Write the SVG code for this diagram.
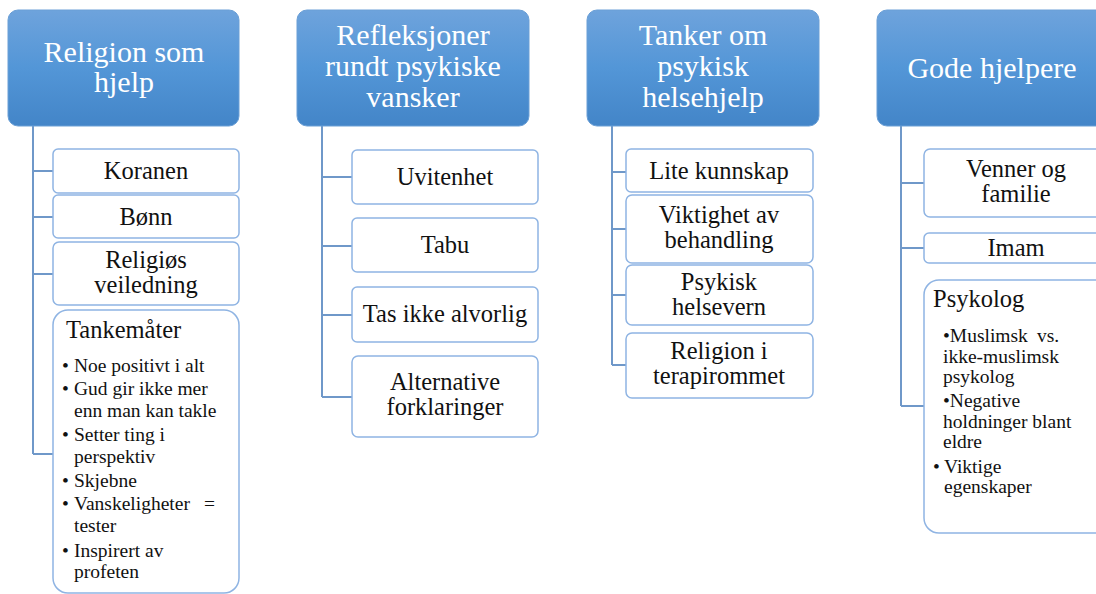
<svg xmlns="http://www.w3.org/2000/svg" width="1096" height="594" viewBox="0 0 1096 594" font-family="Liberation Serif, Times New Roman, serif">
<defs>
<linearGradient id="hg" x1="0" y1="0" x2="0" y2="1">
<stop offset="0" stop-color="#6ea3dc"/>
<stop offset="0.5" stop-color="#5396d7"/>
<stop offset="1" stop-color="#4385c8"/>
</linearGradient>
</defs>
<style>
.hdr{fill:url(#hg);stroke:#6a9fd6;stroke-width:1}
.box{fill:#ffffff;stroke:#8fb4e3;stroke-width:1.5}
.con{fill:none;stroke:#6f98c9;stroke-width:2}
</style>
<rect width="1096" height="594" fill="#ffffff"/>
<g id="connectors" class="con">
<path d="M33 126V454M33 171H53M33 217H53M33 274H53M33 454H53"/>
<path d="M322 126V397M322 177H352M322 246H352M322 315H352M322 397H352"/>
<path d="M612 126V365M612 172H626M612 229H626M612 295H626M612 365H626"/>
<path d="M901 126V406M901 183H924M901 248H924M901 406H924"/>
</g>
<g id="h1" font-size="30" fill="#ffffff" text-anchor="middle">
<rect class="hdr" x="8" y="10" width="231" height="116" rx="10"/>
<text x="124" y="62" font-family="Liberation Serif, Times New Roman, serif">Religion som</text>
<text x="124" y="92" font-family="Liberation Serif, Times New Roman, serif">hjelp</text>
</g>
<g id="n-koranen" font-size="24.5" fill="#111111" text-anchor="middle">
<rect class="box" x="53" y="149" width="186" height="44" rx="5"/>
<text x="146" y="179" font-family="Liberation Serif, Times New Roman, serif">Koranen</text>
</g>
<g id="n-bonn" font-size="24.5" fill="#111111" text-anchor="middle">
<rect class="box" x="53" y="195" width="186" height="43" rx="5"/>
<text x="146" y="225" font-family="Liberation Serif, Times New Roman, serif">Bønn</text>
</g>
<g id="n-religios" font-size="24.5" fill="#111111" text-anchor="middle">
<rect class="box" x="53" y="242" width="186" height="63" rx="6"/>
<text x="146" y="268" font-family="Liberation Serif, Times New Roman, serif">Religiøs</text>
<text x="146" y="293" font-family="Liberation Serif, Times New Roman, serif">veiledning</text>
</g>
<g id="n-tankemater" font-size="19.5" fill="#111111">
<rect class="box" x="53" y="310" width="186" height="283" rx="15"/>
<text x="66" y="338" font-family="Liberation Serif, Times New Roman, serif" font-size="24.5">Tankemåter</text>
<text x="62" y="372" font-family="Liberation Serif, Times New Roman, serif">•</text><text x="74" y="372" font-family="Liberation Serif, Times New Roman, serif">Noe positivt i alt</text>
<text x="62" y="395" font-family="Liberation Serif, Times New Roman, serif">•</text><text x="74" y="395" font-family="Liberation Serif, Times New Roman, serif">Gud gir ikke mer</text>
<text x="74" y="417" font-family="Liberation Serif, Times New Roman, serif">enn man kan takle</text>
<text x="62" y="441" font-family="Liberation Serif, Times New Roman, serif">•</text><text x="74" y="441" font-family="Liberation Serif, Times New Roman, serif">Setter ting i</text>
<text x="74" y="463" font-family="Liberation Serif, Times New Roman, serif">perspektiv</text>
<text x="62" y="487" font-family="Liberation Serif, Times New Roman, serif">•</text><text x="74" y="487" font-family="Liberation Serif, Times New Roman, serif">Skjebne</text>
<text x="62" y="510" font-family="Liberation Serif, Times New Roman, serif">•</text><text x="74" y="510" font-family="Liberation Serif, Times New Roman, serif">Vanskeligheter <tspan x="204">=</tspan></text>
<text x="74" y="532" font-family="Liberation Serif, Times New Roman, serif">tester</text>
<text x="62" y="557" font-family="Liberation Serif, Times New Roman, serif">•</text><text x="74" y="557" font-family="Liberation Serif, Times New Roman, serif">Inspirert <tspan x="145">av</tspan></text>
<text x="74" y="578" font-family="Liberation Serif, Times New Roman, serif">profeten</text>
</g>
<g id="h2" font-size="30" fill="#ffffff" text-anchor="middle">
<rect class="hdr" x="297" y="10" width="232" height="116" rx="10"/>
<text x="413" y="45" font-family="Liberation Serif, Times New Roman, serif">Refleksjoner</text>
<text x="413" y="76" font-family="Liberation Serif, Times New Roman, serif">rundt psykiske</text>
<text x="413" y="107" font-family="Liberation Serif, Times New Roman, serif">vansker</text>
</g>
<g id="n-uvitenhet" font-size="24.5" fill="#111111" text-anchor="middle">
<rect class="box" x="352" y="150" width="186" height="54" rx="5"/>
<text x="445" y="185" font-family="Liberation Serif, Times New Roman, serif">Uvitenhet</text>
</g>
<g id="n-tabu" font-size="24.5" fill="#111111" text-anchor="middle">
<rect class="box" x="352" y="218" width="186" height="54" rx="5"/>
<text x="445" y="253" font-family="Liberation Serif, Times New Roman, serif">Tabu</text>
</g>
<g id="n-tas" font-size="24.5" fill="#111111" text-anchor="middle">
<rect class="box" x="352" y="287" width="186" height="55" rx="5"/>
<text x="445" y="322" font-family="Liberation Serif, Times New Roman, serif">Tas ikke alvorlig</text>
</g>
<g id="n-alternative" font-size="24.5" fill="#111111" text-anchor="middle">
<rect class="box" x="352" y="356" width="186" height="81" rx="6"/>
<text x="445" y="390" font-family="Liberation Serif, Times New Roman, serif">Alternative</text>
<text x="445" y="415" font-family="Liberation Serif, Times New Roman, serif">forklaringer</text>
</g>
<g id="h3" font-size="30" fill="#ffffff" text-anchor="middle">
<rect class="hdr" x="587" y="10" width="232" height="116" rx="10"/>
<text x="703" y="45" font-family="Liberation Serif, Times New Roman, serif">Tanker om</text>
<text x="703" y="76" font-family="Liberation Serif, Times New Roman, serif">psykisk</text>
<text x="703" y="107" font-family="Liberation Serif, Times New Roman, serif">helsehjelp</text>
</g>
<g id="n-lite" font-size="24.5" fill="#111111" text-anchor="middle">
<rect class="box" x="626" y="149" width="187" height="43" rx="5"/>
<text x="719" y="179" font-family="Liberation Serif, Times New Roman, serif">Lite kunnskap</text>
</g>
<g id="n-viktighet" font-size="24.5" fill="#111111" text-anchor="middle">
<rect class="box" x="626" y="195" width="187" height="68" rx="6"/>
<text x="719" y="223" font-family="Liberation Serif, Times New Roman, serif">Viktighet av</text>
<text x="719" y="248" font-family="Liberation Serif, Times New Roman, serif">behandling</text>
</g>
<g id="n-psykisk" font-size="24.5" fill="#111111" text-anchor="middle">
<rect class="box" x="626" y="265" width="187" height="60" rx="6"/>
<text x="719" y="290" font-family="Liberation Serif, Times New Roman, serif">Psykisk</text>
<text x="719" y="315" font-family="Liberation Serif, Times New Roman, serif">helsevern</text>
</g>
<g id="n-religion" font-size="24.5" fill="#111111" text-anchor="middle">
<rect class="box" x="626" y="333" width="187" height="65" rx="6"/>
<text x="719" y="359" font-family="Liberation Serif, Times New Roman, serif">Religion i</text>
<text x="719" y="384" font-family="Liberation Serif, Times New Roman, serif">terapirommet</text>
</g>
<g id="h4" font-size="30" fill="#ffffff" text-anchor="middle">
<rect class="hdr" x="877" y="10" width="232" height="116" rx="10"/>
<text x="992" y="78" font-family="Liberation Serif, Times New Roman, serif">Gode hjelpere</text>
</g>
<g id="n-venner" font-size="24.5" fill="#111111" text-anchor="middle">
<rect class="box" x="924" y="149" width="186" height="68" rx="6"/>
<text x="1016" y="177" font-family="Liberation Serif, Times New Roman, serif">Venner og</text>
<text x="1016" y="202" font-family="Liberation Serif, Times New Roman, serif">familie</text>
</g>
<g id="n-imam" font-size="24.5" fill="#111111" text-anchor="middle">
<rect class="box" x="924" y="233" width="186" height="30" rx="5"/>
<text x="1016" y="256" font-family="Liberation Serif, Times New Roman, serif">Imam</text>
</g>
<g id="n-psykolog" font-size="19.5" fill="#111111">
<rect class="box" x="924" y="280" width="186" height="253" rx="15"/>
<text x="933" y="307" font-family="Liberation Serif, Times New Roman, serif" font-size="24.5">Psykolog</text>
<text x="943" y="342" font-family="Liberation Serif, Times New Roman, serif">•Muslimsk <tspan x="1037">vs.</tspan></text>
<text x="943" y="363" font-family="Liberation Serif, Times New Roman, serif">ikke-muslimsk</text>
<text x="943" y="383" font-family="Liberation Serif, Times New Roman, serif">psykolog</text>
<text x="943" y="407" font-family="Liberation Serif, Times New Roman, serif">•Negative</text>
<text x="943" y="428" font-family="Liberation Serif, Times New Roman, serif">holdninger blant</text>
<text x="943" y="448" font-family="Liberation Serif, Times New Roman, serif">eldre</text>
<text x="933" y="473" font-family="Liberation Serif, Times New Roman, serif">•</text><text x="944" y="473" font-family="Liberation Serif, Times New Roman, serif">Viktige</text>
<text x="944" y="493" font-family="Liberation Serif, Times New Roman, serif">egenskaper</text>
</g>
</svg>
